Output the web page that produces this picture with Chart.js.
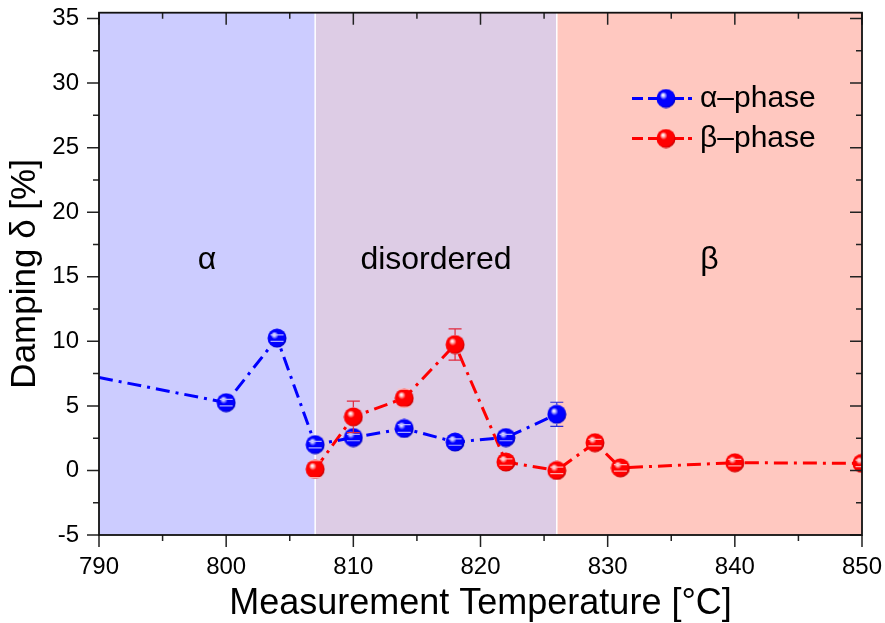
<!DOCTYPE html>
<html><head><meta charset="utf-8">
<script src="https://cdn.jsdelivr.net/npm/chart.js@4.4.0/dist/chart.umd.min.js"></script>
<style>html,body{margin:0;padding:0;background:#fff;} canvas{display:block;}</style>
</head><body>
<canvas id="c" width="885" height="623"></canvas>
<script>
// ---- data ----
const tempAlpha = [790, 800, 804, 807, 810, 814, 818, 822, 826];
const dampAlpha = [7.2, 5.25, 10.25, 2.0, 2.55, 3.25, 2.2, 2.55, 4.35];
const errAlpha  = [0, 0.25, 0.25, 0.25, 0.25, 0.3, 0.25, 0.25, 0.93];

const tempBeta = [807, 810, 814, 818, 822, 826, 829, 831, 840, 850];
const dampBeta = [0.1, 4.15, 5.6, 9.75, 0.65, 0.0, 2.15, 0.2, 0.6, 0.55];
const errBeta  = [0.65, 1.22, 0.7, 1.21, 0.25, 0.25, 0.25, 0.25, 0.25, 0.25];

const seriesNames = ['\u03b1\u2013phase', '\u03b2\u2013phase'];
const phaseBounds = [790, 807, 826, 850];
const phaseNames = ['\u03b1', 'disordered', '\u03b2'];
const xMin = 790, xMax = 850, xStep = 10;
const yMin = -5, yMax = 35.45, yStep = 5;

const FONT = '"Liberation Sans", Arial, Helvetica, sans-serif';
const phaseColors = ['#ccccff', '#ddcce5', '#ffc8c0'];
const lineColors = ['#0000ff', '#ff0000'];
const darkColors = ['#0000a8', '#b00000'];
const lightColors = ['#b8b8ff', '#ffb8b8'];
const errColors = ['#2a2ad8', '#e0283c'];
const tintColors = ['rgba(190,190,255,0.9)', 'rgba(255,190,190,0.9)'];
const R = 9.5;

function makeSphere(base, dark, light) {
  const s = 20;
  const c = document.createElement('canvas'); c.width = s; c.height = s;
  const g = c.getContext('2d');
  const cx = s / 2, cy = s / 2;
  const grad = g.createRadialGradient(cx - 3, cy - 3.5, 0.3, cx - 1, cy - 1, R + 2);
  grad.addColorStop(0, '#ffffff');
  grad.addColorStop(0.12, light);
  grad.addColorStop(0.32, base);
  grad.addColorStop(0.78, base);
  grad.addColorStop(1, dark);
  g.fillStyle = grad;
  g.beginPath(); g.arc(cx, cy, R, 0, Math.PI * 2); g.fill();
  return c;
}
const spheres = [0, 1].map(i => makeSphere(lineColors[i], darkColors[i], lightColors[i]));
const seriesErr = [errAlpha, errBeta];

const phasePlugin = {
  id: 'phases',
  beforeDatasetsDraw(chart) {
    const { ctx, chartArea: a } = chart;
    const xs = chart.scales.x, ys = chart.scales.y;
    ctx.save();
    for (let i = 0; i < phaseNames.length; i++) {
      const x0 = xs.getPixelForValue(phaseBounds[i]);
      const x1 = xs.getPixelForValue(phaseBounds[i + 1]);
      ctx.fillStyle = phaseColors[i];
      ctx.fillRect(x0, a.top, x1 - x0, a.bottom - a.top);
    }
    ctx.strokeStyle = '#ffffff'; ctx.lineWidth = 1.5;
    for (let i = 1; i < phaseBounds.length - 1; i++) {
      const x = xs.getPixelForValue(phaseBounds[i]);
      ctx.beginPath(); ctx.moveTo(x, a.top); ctx.lineTo(x, a.bottom); ctx.stroke();
    }
    ctx.fillStyle = '#000'; ctx.font = '32px ' + FONT;
    ctx.textAlign = 'center'; ctx.textBaseline = 'middle';
    for (let i = 0; i < phaseNames.length; i++) {
      const xc = xs.getPixelForValue((phaseBounds[i] + phaseBounds[i + 1]) / 2);
      ctx.fillText(phaseNames[i], xc, ys.getPixelForValue(16.3));
    }
    ctx.restore();
  }
};

const errorPlugin = {
  id: 'errorBars',
  afterDatasetsDraw(chart) {
    const { ctx, chartArea: a } = chart;
    const ys = chart.scales.y;
    ctx.save();
    ctx.beginPath(); ctx.rect(a.left, a.top, a.right - a.left, a.bottom - a.top); ctx.clip();
    seriesErr.forEach((errs, di) => {
      const meta = chart.getDatasetMeta(di);
      meta.data.forEach((pt, i) => {
        const e = errs[i];
        if (!e) return;
        const v = chart.data.datasets[di].data[i].y;
        const x = pt.x, yc = pt.y;
        const yt = ys.getPixelForValue(v + e), yb = ys.getPixelForValue(v - e);
        ctx.lineWidth = 1.2;
        ctx.strokeStyle = errColors[di];
        ctx.beginPath();
        if (yt < yc - R) { ctx.moveTo(x, yt); ctx.lineTo(x, yc - R); }
        if (yb > yc + R) { ctx.moveTo(x, yc + R); ctx.lineTo(x, yb); }
        ctx.stroke();
        [yt, yb].forEach(yy => {
          ctx.strokeStyle = Math.abs(yy - yc) < R ? tintColors[di] : errColors[di];
          ctx.beginPath(); ctx.moveTo(x - 6.5, yy); ctx.lineTo(x + 6.5, yy); ctx.stroke();
        });
      });
    });
    ctx.restore();
  }
};

const framePlugin = {
  id: 'frame',
  afterDraw(chart) {
    const { ctx, chartArea: a } = chart;
    const xs = chart.scales.x, ys = chart.scales.y;
    ctx.save();
    ctx.strokeStyle = '#222'; ctx.lineWidth = 1.5;
    const maj = 12, min = 6;
    ctx.beginPath();
    for (let v = xMin; v <= xMax + 1e-9; v += xStep / 2) {
      const x = xs.getPixelForValue(v);
      const L = (Math.round((v - xMin) / (xStep / 2)) % 2 === 0) ? maj : min;
      ctx.moveTo(x, a.bottom); ctx.lineTo(x, a.bottom + L);
      ctx.moveTo(x, a.top); ctx.lineTo(x, a.top + L);
    }
    for (let v = yMin; v <= yMax + 1e-9; v += yStep / 2) {
      const y = ys.getPixelForValue(v);
      const L = (Math.round((v - yMin) / (yStep / 2)) % 2 === 0) ? maj : min;
      ctx.moveTo(a.left, y); ctx.lineTo(a.left - L, y);
      ctx.moveTo(a.right, y); ctx.lineTo(a.right - L, y);
    }
    ctx.stroke();
    ctx.strokeStyle = '#111'; ctx.lineWidth = 1.8;
    ctx.strokeRect(a.left, a.top, a.right - a.left, a.bottom - a.top);

    // legend
    const rows = [98.5, 138.5];
    chart.data.datasets.forEach((ds, i) => {
      const y = rows[i];
      ctx.strokeStyle = ds.borderColor; ctx.lineWidth = 3;
      ctx.beginPath();
      [[632, 643], [648, 684], [688, 692]].forEach(([s, e]) => { ctx.moveTo(s, y); ctx.lineTo(e, y); });
      ctx.stroke();
      ctx.drawImage(spheres[i], 666 - 10, y - 10);
      ctx.fillStyle = '#000'; ctx.font = '30px ' + FONT;
      ctx.textAlign = 'left'; ctx.textBaseline = 'middle';
      ctx.fillText(ds.label, 700, y);
    });
    ctx.restore();
  }
};

function makeDataset(i, temps, vals) {
  return {
    label: seriesNames[i],
    data: temps.map((x, k) => ({ x, y: vals[k] })),
    borderColor: lineColors[i],
    backgroundColor: lineColors[i],
    borderWidth: 3,
    borderDash: [14, 6, 3, 6],
    pointStyle: spheres[i],
    pointRadius: temps.map(t => (t <= xMin ? 0 : R)),
    tension: 0,
    fill: false
  };
}

function noPad(s) { s.paddingTop = 0; s.paddingBottom = 0; s.paddingLeft = 0; s.paddingRight = 0; }

new Chart(document.getElementById('c'), {
  type: 'line',
  data: { datasets: [makeDataset(0, tempAlpha, dampAlpha), makeDataset(1, tempBeta, dampBeta)] },
  options: {
    responsive: false,
    animation: false,
    events: [],
    layout: { padding: { top: 12.7, right: 23, left: 0, bottom: 0 } },
    plugins: { legend: { display: false }, tooltip: { enabled: false } },
    scales: {
      x: {
        type: 'linear', min: xMin, max: xMax,
        grid: { display: false, drawTicks: false },
        border: { display: false },
        ticks: { stepSize: xStep, padding: 18, color: '#000', font: { family: FONT, size: 24 } },
        title: { display: true, text: 'Measurement Temperature [\u00b0C]', color: '#000',
                 font: { family: FONT, size: 36, lineHeight: 1.05 }, padding: { top: 0, bottom: 0 } },
        afterFit(s) { s.height = 88; noPad(s); }
      },
      y: {
        type: 'linear', min: yMin, max: yMax,
        grid: { display: false, drawTicks: false },
        border: { display: false },
        ticks: { stepSize: yStep, includeBounds: false, padding: 20, color: '#000', font: { family: FONT, size: 24 } },
        title: { display: true, text: 'Damping \u03b4 [%]', color: '#000',
                 font: { family: FONT, size: 35 }, padding: { top: 4, bottom: 0 } },
        afterFit(s) { s.width = 99; noPad(s); }
      }
    }
  },
  plugins: [phasePlugin, errorPlugin, framePlugin]
});
</script>
</body></html>
